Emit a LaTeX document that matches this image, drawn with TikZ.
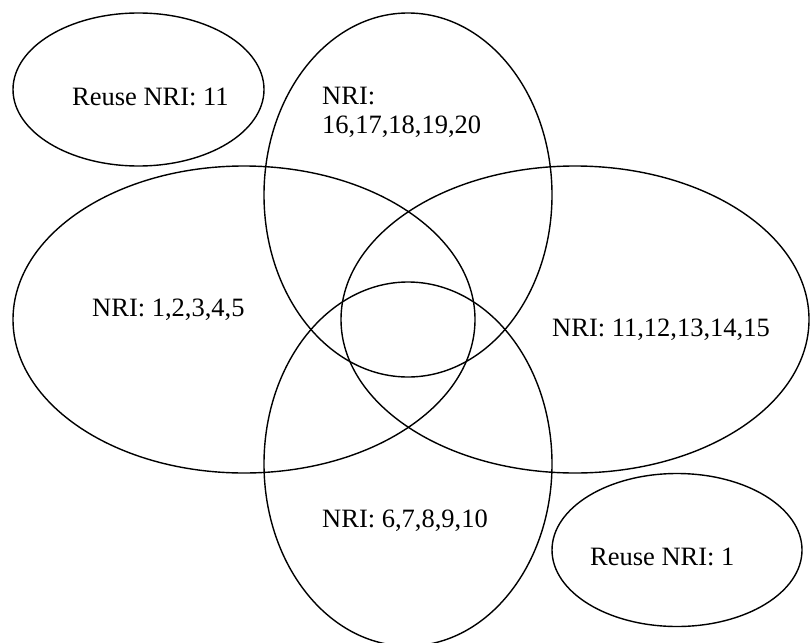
\documentclass[tikz,border=0pt]{standalone}
\usepackage{fontspec}
\setmainfont{Liberation Serif}
\usetikzlibrary{shapes.geometric}
\begin{document}
\begin{tikzpicture}[x=1pt,y=-1pt,
  ring/.style={draw=black,line width=1.4pt,ellipse,inner sep=0pt},
  lbl/.style={anchor=base west,inner sep=0pt,font=\fontsize{26.5}{30}\selectfont}]
\useasboundingbox (0,0) rectangle (810,642);
\node[ring,minimum width=251pt,minimum height=153pt] (e1) at (138.5,89.5) {};
\node[ring,minimum width=288pt,minimum height=364pt] (e2) at (408,195) {};
\node[ring,minimum width=462pt,minimum height=307pt] (e3) at (244,319.5) {};
\node[ring,minimum width=468pt,minimum height=307pt] (e4) at (575,319.5) {};
\node[ring,minimum width=288pt,minimum height=364pt] (e5) at (408,464) {};
\node[ring,minimum width=250pt,minimum height=153pt] (e6) at (677,550) {};
\node[lbl] (t1) at (72,105) {Reuse NRI: 11};
\node[lbl] (t2a) at (322,104) {NRI:};
\node[lbl] (t2b) at (322,133) {16,17,18,19,20};
\node[lbl] (t3) at (92,316) {NRI: 1,2,3,4,5};
\node[lbl] (t4) at (552,336) {NRI: 11,12,13,14,15};
\node[lbl] (t5) at (322,527) {NRI: 6,7,8,9,10};
\node[lbl] (t6) at (590,565) {Reuse NRI: 1};
\end{tikzpicture}
\end{document}
